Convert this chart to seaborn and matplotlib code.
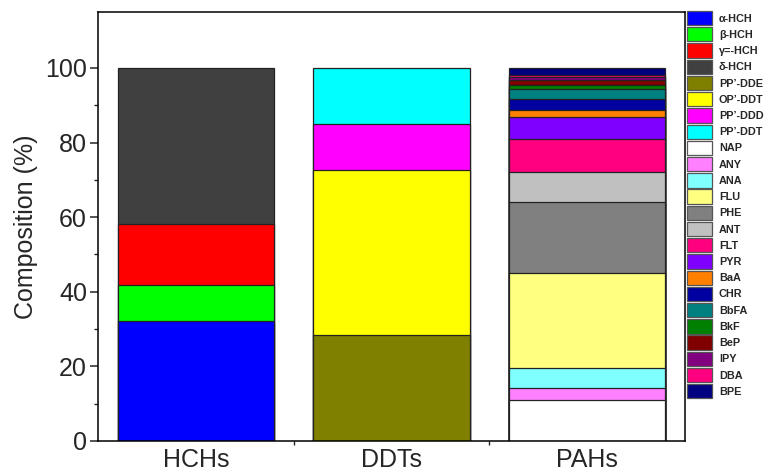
import matplotlib
matplotlib.use("Agg")
import matplotlib.pyplot as plt
from matplotlib.patches import Patch
from matplotlib.ticker import FixedLocator
import numpy as np
import pandas as pd
import seaborn as sns

# Composition of each contaminant group (%)
groups = ["HCHs", "DDTs", "PAHs"]

hch_names = ["α-HCH", "β-HCH", "γ=-HCH", "δ-HCH"]
hch_values = [32.3, 9.6, 16.4, 41.7]
hch_colors = ["#0000FF", "#00FF00", "#FF0000", "#404040"]

ddt_names = ["PP’-DDE", "OP’-DDT", "PP’-DDD", "PP’-DDT"]
ddt_values = [28.3, 44.4, 12.2, 15.1]
ddt_colors = ["#808000", "#FFFF00", "#FF00FF", "#00FFFF"]

pah_names = ["NAP", "ANY", "ANA", "FLU", "PHE", "ANT", "FLT", "PYR",
             "BaA", "CHR", "BbFA", "BkF", "BeP", "IPY", "DBA", "BPE"]
pah_values = [11.0, 3.1, 5.6, 25.3, 19.2, 7.8, 9.0, 5.9,
              1.95, 2.7, 2.7, 1.2, 1.4, 0.8, 0.5, 1.85]
pah_colors = ["#FFFFFF", "#FF80FF", "#80FFFF", "#FFFF80", "#808080", "#C0C0C0",
              "#FF0080", "#8000FF", "#FF8000", "#0000A0", "#008080", "#008000",
              "#800000", "#800080", "#FF0080", "#000080"]

rows = []
for grp, names, vals, cols in [("HCHs", hch_names, hch_values, hch_colors),
                               ("DDTs", ddt_names, ddt_values, ddt_colors),
                               ("PAHs", pah_names, pah_values, pah_colors)]:
    tops = np.cumsum(vals)
    for n, v, t, c in zip(names, vals, tops, cols):
        rows.append({"group": grp, "compound": n, "value": v, "top": t, "color": c})
df = pd.DataFrame(rows)

sns.set_style("white")
plt.rcParams["font.family"] = ["Liberation Sans", "DejaVu Sans"]

fig = plt.figure(figsize=(7.64, 4.72), dpi=100)
ax = fig.add_axes([98 / 764, 1 - 441 / 472, (685 - 98) / 764, (441 - 12) / 472])

# Stacked bars: draw cumulative totals from the top segment down
for _, r in df.sort_values("top", ascending=False).iterrows():
    sns.barplot(x=[r["group"]], y=[r["top"]], order=groups, color=r["color"],
                saturation=1, width=0.8, edgecolor="#222222", linewidth=0.9,
                ax=ax)

ax.set_xlim(-0.5, 2.5)
ax.set_ylim(0, 115)
ax.yaxis.set_major_locator(FixedLocator([0, 20, 40, 60, 80, 100]))
ax.yaxis.set_minor_locator(FixedLocator([10, 30, 50, 70, 90]))
ax.xaxis.set_minor_locator(FixedLocator([0.5, 1.5]))
ax.set_xticks(range(len(groups)))
ax.set_xticklabels(groups)
ax.set_xlabel("")
ax.set_ylabel("Composition (%)", fontsize=18, labelpad=5)

for s in ax.spines.values():
    s.set_visible(True)
    s.set_color("black")
    s.set_linewidth(1.1)

ax.tick_params(axis="y", which="major", direction="out", length=6, width=1.1,
               labelsize=18, left=True, pad=2)
ax.tick_params(axis="y", which="minor", direction="out", length=3, width=1.0,
               left=True)
ax.tick_params(axis="x", which="major", length=0, labelsize=18, pad=5)
ax.tick_params(axis="x", which="minor", direction="out", length=3, width=1.0,
               bottom=True)

# Legend with every compound in stacking order
handles = [Patch(facecolor=c, edgecolor="#555555", linewidth=0.9, label=n)
           for n, c in zip(df["compound"], df["color"])]
fig.legend(handles=handles, loc="upper left",
           bbox_to_anchor=(687 / 764, 1 - 11 / 472), frameon=False,
           borderpad=0, borderaxespad=0, prop={"size": 7.8, "weight": "bold"},
           handlelength=2.3, handleheight=1.65, labelspacing=0.18,
           handletextpad=0.65)

fig.savefig("out.png", dpi=100)
